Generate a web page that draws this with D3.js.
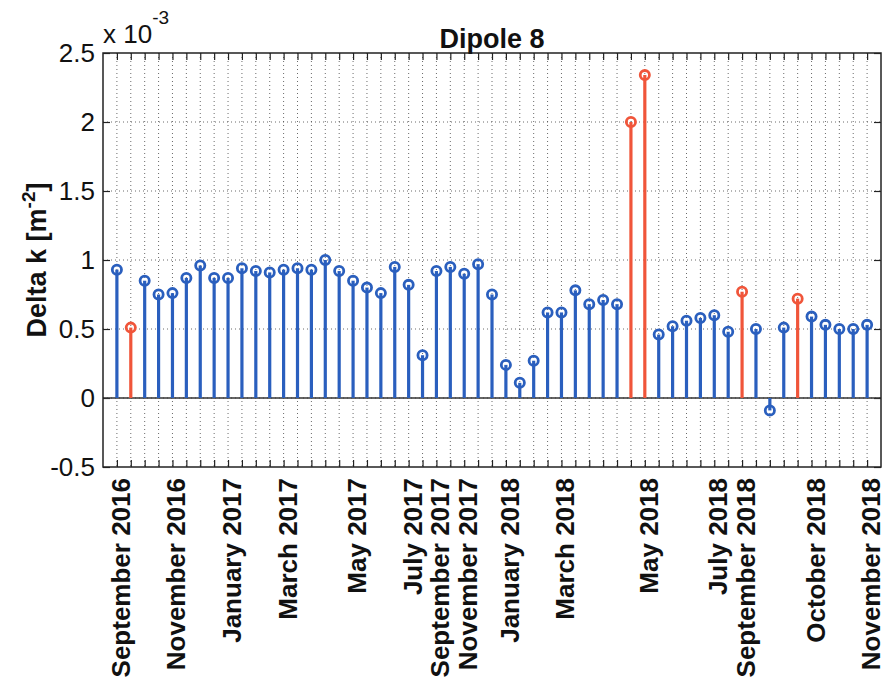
<!DOCTYPE html>
<html>
<head>
<meta charset="utf-8">
<script src="https://cdn.jsdelivr.net/npm/d3@7"></script>
<style>
  body { margin: 0; background: #fff; }
  text { font-family: "Liberation Sans", Arial, Helvetica, sans-serif; fill: #111; }
</style>
</head>
<body>
<div id="chart"></div>
<script>
// Delta k values, in units of 1e-3 m^-2, one per measurement
const deltaK = [0.93, 0.51, 0.85, 0.75, 0.76, 0.87, 0.96, 0.87, 0.87, 0.94,
                0.92, 0.91, 0.93, 0.94, 0.93, 1.00, 0.92, 0.85, 0.80, 0.76,
                0.95, 0.82, 0.31, 0.92, 0.95, 0.90, 0.97, 0.75, 0.24, 0.11,
                0.27, 0.62, 0.62, 0.78, 0.68, 0.71, 0.68, 2.00, 2.34, 0.46,
                0.52, 0.56, 0.58, 0.60, 0.48, 0.77, 0.50, -0.09, 0.51, 0.72,
                0.59, 0.53, 0.50, 0.50, 0.53];
// measurements drawn in red (1-based index)
const flagged = [2, 38, 39, 46, 50];
// labelled x ticks (1-based index -> month)
const labelIdx = [1, 5, 9, 13, 18, 22, 24, 26, 29, 33, 39, 44, 46, 51, 55];
const labelTxt = ["September 2016", "November 2016", "January 2017", "March 2017", "May 2017",
                  "July 2017", "September 2017", "November 2017", "January 2018", "March 2018",
                  "May 2018", "July 2018", "September 2018", "October 2018", "November 2018"];
const yTicks = [-0.5, 0, 0.5, 1, 1.5, 2, 2.5];

const W = 893, H = 690;
const blue = "#2a5fbe", red = "#f0553a";

const svg = d3.select("#chart").append("svg")
  .attr("width", W).attr("height", H);

const x = d3.scaleLinear().domain([0, deltaK.length + 1]).range([103, 881]);
const y = d3.scaleLinear().domain([-0.5, 2.5]).range([467, 53]);
const idx = d3.range(1, deltaK.length + 1);

// dotted grid
svg.append("g").selectAll("line")
  .data(idx).enter().append("line")
  .attr("x1", d => x(d)).attr("x2", d => x(d))
  .attr("y1", y(2.5)).attr("y2", y(-0.5))
  .attr("stroke", "#444").attr("stroke-width", 0.8)
  .attr("stroke-dasharray", "1,3");
svg.append("g").selectAll("line")
  .data(yTicks.slice(1, -1)).enter().append("line")
  .attr("x1", x(0)).attr("x2", x(deltaK.length + 1))
  .attr("y1", d => y(d)).attr("y2", d => y(d))
  .attr("stroke", "#444").attr("stroke-width", 0.8)
  .attr("stroke-dasharray", "1,3");

// axes with inward ticks
const axB = svg.append("g").attr("transform", `translate(0,${y(-0.5)})`)
  .call(d3.axisBottom(x).tickValues(idx).tickSize(-7).tickFormat(""));
const axT = svg.append("g").attr("transform", `translate(0,${y(2.5)})`)
  .call(d3.axisTop(x).tickValues(idx).tickSize(-7).tickFormat(""));
const axL = svg.append("g").attr("transform", `translate(${x(0)},0)`)
  .call(d3.axisLeft(y).tickValues(yTicks).tickSize(-7).tickPadding(8).tickFormat(d => String(d)));
const axR = svg.append("g").attr("transform", `translate(${x(deltaK.length + 1)},0)`)
  .call(d3.axisRight(y).tickValues(yTicks).tickSize(-7).tickFormat(""));
[axB, axT, axL, axR].forEach(g => {
  g.select(".domain").remove();
  g.selectAll(".tick line").attr("stroke", "#222").attr("stroke-width", 1.2);
});
axL.selectAll(".tick text")
  .style("font-size", "26px")
  .attr("fill", "#111");

// zero baseline
svg.append("line")
  .attr("x1", x(0)).attr("x2", x(deltaK.length + 1))
  .attr("y1", y(0)).attr("y2", y(0))
  .attr("stroke", "#333").attr("stroke-width", 1.5);

// stems
const pts = deltaK.map((v, i) => ({ i: i + 1, v, c: flagged.includes(i + 1) ? red : blue }));
svg.append("g").selectAll("line")
  .data(pts).enter().append("line")
  .attr("x1", d => x(d.i)).attr("x2", d => x(d.i))
  .attr("y1", y(0)).attr("y2", d => y(d.v))
  .attr("stroke", d => d.c).attr("stroke-width", 3.2);
svg.append("g").selectAll("circle")
  .data(pts).enter().append("circle")
  .attr("cx", d => x(d.i)).attr("cy", d => y(d.v))
  .attr("r", 4.6)
  .attr("fill", "none")
  .attr("stroke", d => d.c).attr("stroke-width", 2.8);

// box
svg.append("rect")
  .attr("x", x(0)).attr("y", y(2.5))
  .attr("width", x(deltaK.length + 1) - x(0)).attr("height", y(-0.5) - y(2.5))
  .attr("fill", "none").attr("stroke", "#222").attr("stroke-width", 1.5);

// rotated month labels
svg.append("g").selectAll("text")
  .data(labelIdx).enter().append("text")
  .attr("transform", d => `translate(${x(d) + 13},478) rotate(-90)`)
  .attr("text-anchor", "end")
  .style("font-size", "26px")
  .style("font-weight", "bold")
  .text((d, i) => labelTxt[i]);

// title
svg.append("text")
  .attr("x", (x(0) + x(deltaK.length + 1)) / 2).attr("y", 48)
  .attr("text-anchor", "middle")
  .style("font-size", "27px").style("font-weight", "bold")
  .text("Dipole 8");

// exponent
const ex = svg.append("text").attr("x", x(0)).attr("y", 43).style("font-size", "26px");
ex.append("tspan").text("x 10");
ex.append("tspan").attr("dy", -19).style("font-size", "19px").text("-3");

// y label
const yl = svg.append("text")
  .attr("transform", `translate(46,${(y(2.5) + y(-0.5)) / 2}) rotate(-90)`)
  .attr("text-anchor", "middle")
  .style("font-size", "27px").style("font-weight", "bold");
yl.append("tspan").text("Delta k [m");
yl.append("tspan").attr("dy", -11).style("font-size", "19px").text("-2");
yl.append("tspan").attr("dy", 11).text("]");
</script>
</body>
</html>
